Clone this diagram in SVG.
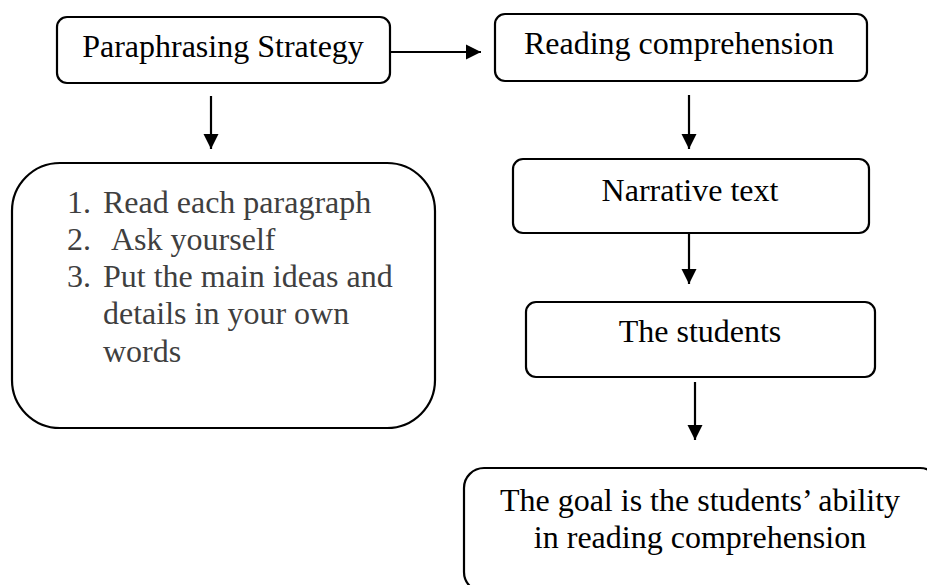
<svg xmlns="http://www.w3.org/2000/svg" width="927" height="585" viewBox="0 0 927 585">
  <style>
    .box { fill: #ffffff; stroke: #000000; stroke-width: 2.2; }
    .lbl { font-family: "Liberation Serif", "Times New Roman", serif; font-size: 32px; fill: #000000; }
    .list { font-family: "Liberation Serif", "Times New Roman", serif; font-size: 32px; fill: #3f3f3f; }
    .conn { stroke: #000000; stroke-width: 2.2; fill: none; marker-end: url(#arrow); }
  </style>
  <defs>
    <marker id="arrow" markerUnits="userSpaceOnUse" markerWidth="16" markerHeight="16" viewBox="0 0 16 16" refX="15" refY="8" orient="auto">
      <path d="M0,0.5 L15,8 L0,15.5 Z" fill="#000000"/>
    </marker>
  </defs>
  <rect width="927" height="585" fill="#ffffff"/>

  <g id="connectors">
    <line class="conn" x1="390" y1="52" x2="481" y2="52"/>
    <line class="conn" x1="211" y1="96" x2="211" y2="149"/>
    <line class="conn" x1="689" y1="95" x2="689" y2="149"/>
    <line class="conn" x1="689" y1="233" x2="689" y2="284"/>
    <line class="conn" x1="695" y1="382" x2="695" y2="440"/>
  </g>

  <g id="node-paraphrasing">
    <rect class="box" x="57" y="17" width="333" height="66" rx="10"/>
    <text class="lbl" x="223" y="57" text-anchor="middle">Paraphrasing Strategy</text>
  </g>

  <g id="node-reading">
    <rect class="box" x="495" y="14" width="372" height="67" rx="10"/>
    <text class="lbl" x="679" y="54" text-anchor="middle">Reading comprehension</text>
  </g>

  <g id="node-steps">
    <rect class="box" x="12" y="163" width="423" height="265" rx="48"/>
    <text class="list" x="67" y="213">1.</text>
    <text class="list" x="103" y="213">Read each paragraph</text>
    <text class="list" x="67" y="250">2.</text>
    <text class="list" x="111" y="250">Ask yourself</text>
    <text class="list" x="67" y="287">3.</text>
    <text class="list" x="103" y="287">Put the main ideas and</text>
    <text class="list" x="103" y="324">details in your own</text>
    <text class="list" x="103" y="362">words</text>
  </g>

  <g id="node-narrative">
    <rect class="box" x="513" y="159" width="356" height="74" rx="10"/>
    <text class="lbl" x="690" y="201" text-anchor="middle">Narrative text</text>
  </g>

  <g id="node-students">
    <rect class="box" x="526" y="302" width="349" height="75" rx="10"/>
    <text class="lbl" x="700" y="342" text-anchor="middle">The students</text>
  </g>

  <g id="node-goal">
    <rect class="box" x="464" y="468" width="476" height="124" rx="20"/>
    <text class="lbl" x="700" y="511" text-anchor="middle">The goal is the students’ ability</text>
    <text class="lbl" x="700" y="548" text-anchor="middle">in reading comprehension</text>
  </g>
</svg>
